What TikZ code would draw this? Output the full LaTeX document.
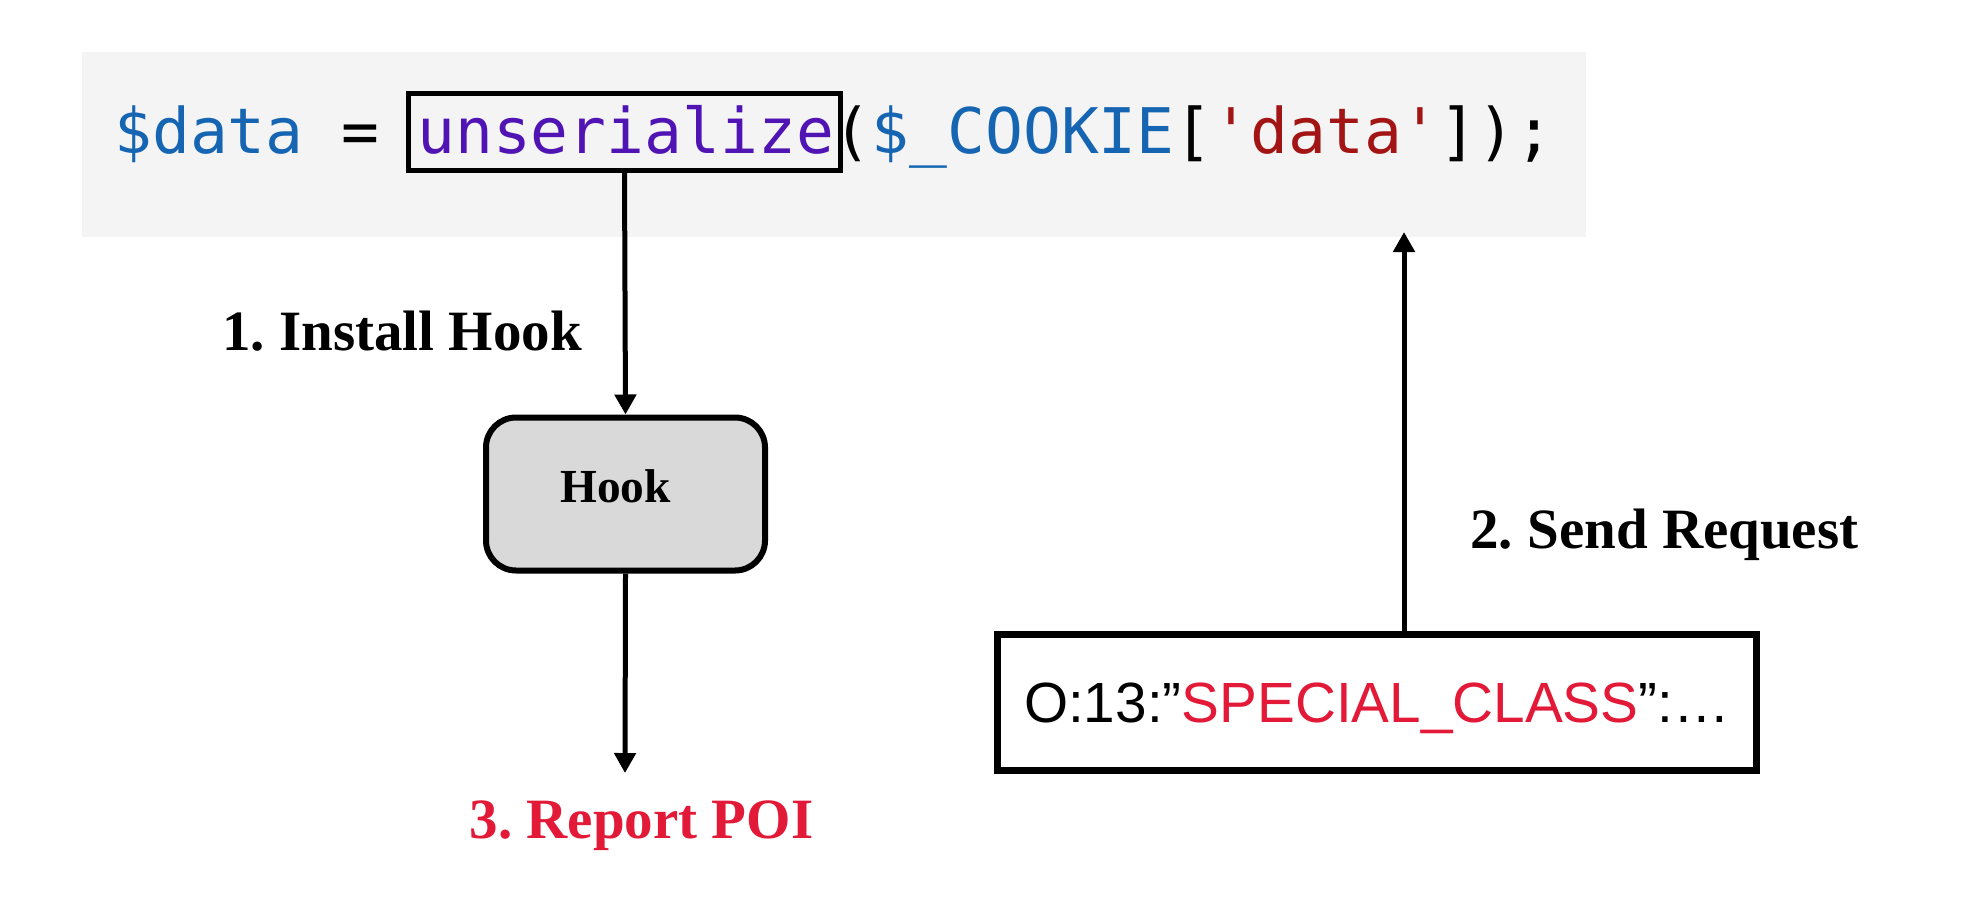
\documentclass[tikz,border=0pt]{standalone}
\usepackage{fontspec}
\setmainfont{Liberation Serif}
\setmonofont{DejaVu Sans Mono}
\newfontfamily\arialfont{Liberation Sans}
\usetikzlibrary{arrows.meta}
\definecolor{codebgc}{HTML}{F4F4F4}
\definecolor{hookfill}{HTML}{D9D9D9}
\definecolor{codeblue}{RGB}{21,101,179}
\definecolor{fnpurple}{RGB}{80,20,180}
\definecolor{strred}{RGB}{163,21,21}
\definecolor{poired}{RGB}{226,26,56}
\frenchspacing
\begin{document}
\begin{tikzpicture}[x=0.5pt,y=-0.5pt,
  arr/.style={line width=2.5pt,-{Triangle[width=10.5pt,length=10pt]}},
  labfont/.style={font=\bfseries\fontsize{28.5}{34}\selectfont},
  plainbox/.style={draw,inner sep=0pt}]
\useasboundingbox (0,0) rectangle (1973,916);
% code background
\node[fill=codebgc, minimum width=752pt, minimum height=92.5pt, inner sep=0pt] (bg) at (834,144.5) {};
\node[anchor=base west, inner sep=0pt, font=\ttfamily\fontsize{31.45}{36}\selectfont] (code) at (114,153)
  {\textcolor{codeblue}{\$data} = \textcolor{fnpurple}{unserialize}(\textcolor{codeblue}{\$\_COOKIE}[\textcolor{strred}{'data'}]);};
\node[plainbox, line width=2.6pt, minimum width=216pt, minimum height=38.5pt] (fn) at (624.5,132) {};
% hook
\node[draw, fill=hookfill, line width=3pt, rounded corners=15pt, minimum width=139.5pt, minimum height=76.5pt] (hook) at (625.5,494) {};
\node[font=\bfseries\fontsize{23.7}{28}\selectfont, inner sep=0pt] (hooklbl) at ([xshift=-5pt,yshift=4pt]hook.center) {Hook};
% request box
\node[plainbox, line width=3.5pt, minimum width=379.5pt, minimum height=68pt, text depth=0pt, font=\arialfont\fontsize{28.35}{34}\selectfont] (req) at (1377,702.5)
  {O:13:”\textcolor{poired}{SPECIAL\_CLASS}”:…};
% labels
\node[labfont, anchor=base west, inner sep=0pt] (l1) at (222,350) {1. Install Hook};
\node[labfont, anchor=base west, inner sep=0pt] (l2) at (1470,548) {2. Send Request};
\node[labfont, anchor=base, inner sep=0pt, text=poired] (l3) at (641.5,838) {3. Report POI};
% connectors
\coordinate (poitip) at (625,773);
\coordinate (reqtip) at (1404,232);
\draw[arr] (fn.south) -- (hook.north);
\draw[arr] (hook.south) -- (poitip);
\draw[arr] (req.north -| reqtip) -- (reqtip);
\end{tikzpicture}
\end{document}
